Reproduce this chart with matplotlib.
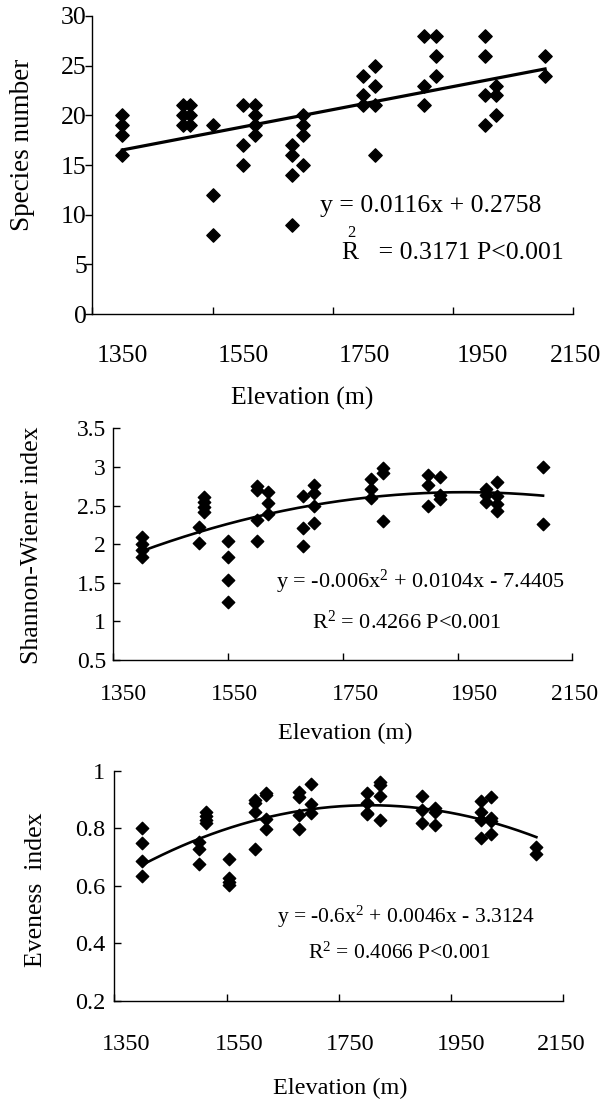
import matplotlib
matplotlib.use('Agg')
import matplotlib.pyplot as plt
import matplotlib.transforms as mtransforms
import numpy as np

plt.rcParams['font.family'] = ['Liberation Serif', 'DejaVu Serif']
plt.rcParams['mathtext.fontset'] = 'custom'
plt.rcParams['mathtext.rm'] = 'Liberation Serif'
plt.rcParams['mathtext.it'] = 'Liberation Serif'

# ---- data ----
# species number
sp_elev = [1400, 1400, 1400, 1400,
           1500, 1500, 1500, 1512, 1512, 1512,
           1550, 1550, 1550,
           1600, 1600, 1600, 1620, 1620, 1620, 1620,
           1682, 1682, 1682, 1682, 1701, 1701, 1701, 1701,
           1800, 1800, 1800, 1820, 1820, 1820, 1820,
           1901, 1901, 1901, 1921, 1921, 1921,
           2003, 2003, 2003, 2003, 2021, 2021, 2021,
           2103, 2103]
sp_num = [20, 19, 18, 16,
          21, 20, 19, 21, 20, 19,
          19, 12, 8,
          21, 17, 15, 21, 20, 19, 18,
          17, 16, 14, 9, 20, 19, 18, 15,
          24, 22, 21, 25, 23, 21, 16,
          28, 23, 21, 28, 26, 24,
          28, 26, 22, 19, 23, 22, 20,
          26, 24]
sp_fit = [0.0116, 0.2758]   # linear trend as printed on the chart

# Shannon-Wiener index
sw_elev = [1400, 1400, 1400, 1400,
           1508, 1508, 1508, 1508, 1500, 1500,
           1550, 1550, 1550, 1550,
           1601, 1601, 1601, 1601, 1620, 1620, 1620,
           1680, 1680, 1680, 1700, 1700, 1700, 1700,
           1800, 1800, 1800, 1820, 1820, 1820,
           1899, 1899, 1899, 1920, 1920, 1920,
           1999, 1999, 1999, 2019, 2019, 2019, 2019,
           2099, 2099]
sw_idx = [2.09, 2.00, 1.92, 1.84,
          2.61, 2.55, 2.48, 2.42, 2.22, 2.02,
          2.04, 1.84, 1.54, 1.25,
          2.75, 2.70, 2.31, 2.04, 2.68, 2.53, 2.39,
          2.62, 2.21, 1.98, 2.77, 2.66, 2.50, 2.28,
          2.85, 2.72, 2.60, 2.98, 2.92, 2.30,
          2.89, 2.77, 2.50, 2.87, 2.64, 2.59,
          2.71, 2.64, 2.55, 2.81, 2.62, 2.52, 2.43,
          3.00, 2.26]

# Eveness index
ev_elev = [1400, 1400, 1400, 1400,
           1500, 1500, 1500, 1513, 1513, 1513, 1513,
           1554, 1554, 1554, 1554,
           1600, 1600, 1600, 1600, 1621, 1621, 1621, 1621,
           1679, 1679, 1679, 1679, 1701, 1701, 1701,
           1800, 1800, 1800, 1800, 1823, 1823, 1823, 1823,
           1899, 1899, 1899, 1922, 1922, 1922,
           2004, 2004, 2004, 2004, 2022, 2022, 2022, 2022,
           2102, 2102]
ev_idx = [0.802, 0.748, 0.686, 0.634,
          0.753, 0.727, 0.675, 0.858, 0.843, 0.829, 0.817,
          0.692, 0.626, 0.614, 0.603,
          0.898, 0.887, 0.855, 0.727, 0.921, 0.915, 0.831, 0.796,
          0.927, 0.907, 0.846, 0.796, 0.954, 0.884, 0.852,
          0.921, 0.887, 0.854, 0.848, 0.959, 0.950, 0.913, 0.829,
          0.913, 0.863, 0.819, 0.869, 0.858, 0.811,
          0.895, 0.858, 0.829, 0.765, 0.907, 0.834, 0.826, 0.779,
          0.736, 0.711]

x_ticks = [1350, 1550, 1750, 1950, 2150]
sp_ticks = [0, 5, 10, 15, 20, 25, 30]
sw_ticks = [0.5, 1, 1.5, 2, 2.5, 3, 3.5]
sw_ticklabels = ['0.5', '1', '1.5', '2', '2.5', '3', '3.5']
ev_ticks = [0.2, 0.4, 0.6, 0.8, 1.0]
ev_ticklabels = ['0.2', '0.4', '0.6', '0.8', '1']

fig = plt.figure(figsize=(6.03, 11.03), dpi=100)


def style_axes(ax, fs, ydir, xpad, ypad, xoffsets):
    ax.spines['top'].set_visible(False)
    ax.spines['right'].set_visible(False)
    for s in ['left', 'bottom']:
        ax.spines[s].set_linewidth(1.0)
    ax.tick_params(axis='x', direction='in', length=5, width=1.0,
                   labelsize=fs, pad=xpad)
    ax.tick_params(axis='y', direction=ydir, length=5, width=1.0,
                   labelsize=fs, pad=ypad)
    ax.set_xlim(1350, 2150)
    ax.set_xticks(x_ticks)
    ax.set_xticklabels([str(t) for t in x_ticks])
    # labels sit a little right of their ticks, as in the original
    for lbl, dx in zip(ax.get_xticklabels(), xoffsets):
        lbl.set_transform(lbl.get_transform() +
                          mtransforms.ScaledTranslation(dx / 100, 0, fig.dpi_scale_trans))


def draw_trend(ax, x, coef, lw):
    xs = np.linspace(min(x), max(x), 200)
    ax.plot(xs, np.polyval(coef, xs), color='black', lw=lw, zorder=2)


# 1. Species number
ax1 = fig.add_axes([0.1531, 0.7153, 0.7977, 0.2702])
ax1.scatter(sp_elev, sp_num, marker='D', s=46, color='black', zorder=3)
draw_trend(ax1, sp_elev, sp_fit, 2.3)
ax1.set_ylim(0, 30)
ax1.set_yticks(sp_ticks)
style_axes(ax1, 18.5, 'out', 22.5, -1, [30, 31, 32, 29, 2])
ax1.set_ylabel('Species number', fontsize=19.5)
ax1.yaxis.set_label_coords(-0.146, 0.567)
ax1.set_xlabel('Elevation (m)', fontsize=18.5)
ax1.xaxis.set_label_coords(0.436, -0.282)
ax1.xaxis.label.set_va('center')
ax1.text(0.473, 0.362, 'y = 0.0116x + 0.2758', transform=ax1.transAxes,
         fontsize=18.5, ha='left', va='center')
ax1.text(0.538, 0.272, '2', transform=ax1.transAxes,
         fontsize=12, ha='center', va='center')
ax1.text(0.519, 0.205, 'R   = 0.3171 P<0.001', transform=ax1.transAxes,
         fontsize=18.5, ha='left', va='center')

# 2. Shannon-Wiener index
ax2 = fig.add_axes([0.1879, 0.4016, 0.7612, 0.2101])
ax2.scatter(sw_elev, sw_idx, marker='D', s=40, color='black', zorder=3)
draw_trend(ax2, sw_elev, np.polyfit(sw_elev, sw_idx, 2), 1.9)
ax2.set_ylim(0.5, 3.5)
ax2.set_yticks(sw_ticks)
ax2.set_yticklabels(sw_ticklabels)
style_axes(ax2, 17, 'in', 17.5, 5.3, [10, 6, 13, 17, 2])
ax2.set_ylabel('Shannon-Wiener index', fontsize=18.5)
ax2.yaxis.set_label_coords(-0.177, 0.496)
ax2.set_xlabel('Elevation (m)', fontsize=17.5)
ax2.xaxis.set_label_coords(0.505, -0.315)
ax2.xaxis.label.set_va('center')
ax2.text(0.354, 0.337, 'y = -0.006x$^{2}$ + 0.0104x - 7.4405', transform=ax2.transAxes,
         fontsize=16, ha='left', va='center')
ax2.text(0.433, 0.164, 'R$^{2}$ = 0.4266 P<0.001', transform=ax2.transAxes,
         fontsize=16, ha='left', va='center')

# 3. Eveness index
ax3 = fig.add_axes([0.1896, 0.0925, 0.7446, 0.2088])
ax3.scatter(ev_elev, ev_idx, marker='D', s=40, color='black', zorder=3)
draw_trend(ax3, ev_elev, np.polyfit(ev_elev, ev_idx, 2), 1.9)
ax3.set_ylim(0.2, 1.0)
ax3.set_yticks(ev_ticks)
ax3.set_yticklabels(ev_ticklabels)
style_axes(ax3, 17.5, 'in', 24, 6.7, [12, 13, 11, 10, -2])
ax3.set_ylabel('Eveness  index', fontsize=18.5)
ax3.yaxis.set_label_coords(-0.174, 0.482)
ax3.set_xlabel('Elevation (m)', fontsize=17.5)
ax3.xaxis.set_label_coords(0.503, -0.378)
ax3.xaxis.label.set_va('center')
ax3.text(0.362, 0.365, 'y = -0.6x$^{2}$ + 0.0046x - 3.3124', transform=ax3.transAxes,
         fontsize=15.5, ha='left', va='center')
ax3.text(0.431, 0.208, 'R$^{2}$ = 0.4066 P<0.001', transform=ax3.transAxes,
         fontsize=15.5, ha='left', va='center')

for ax in (ax1, ax2, ax3):
    ax.yaxis.label.set_va('center')
    ax.yaxis.label.set_ha('center')

fig.savefig('out.png', dpi=100)
